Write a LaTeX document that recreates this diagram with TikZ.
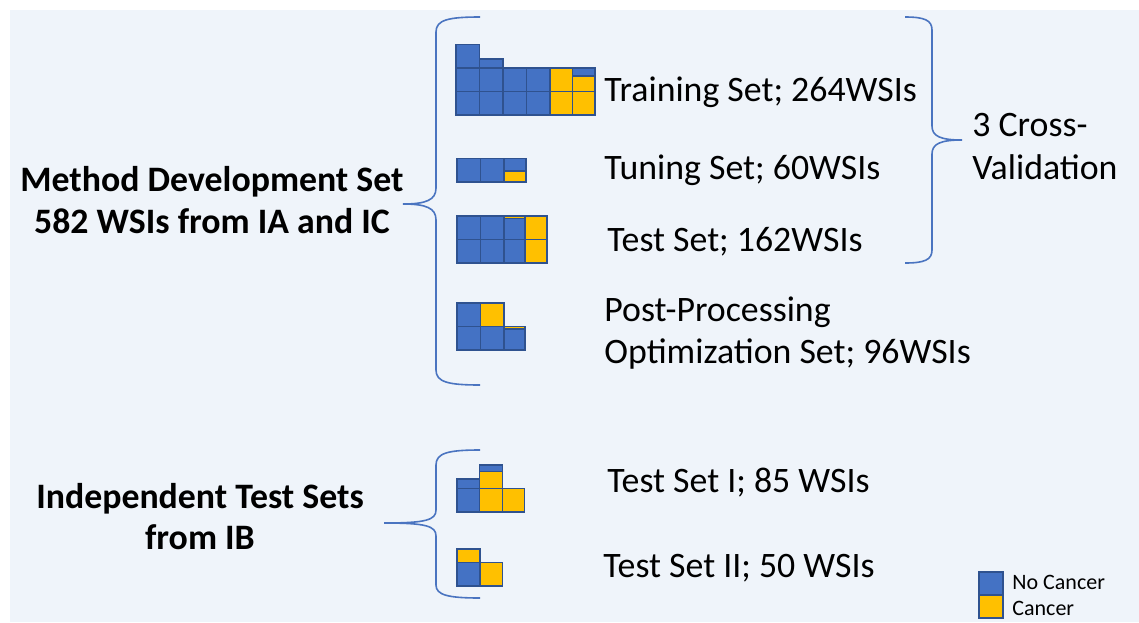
\documentclass[tikz,border=0pt]{standalone}
\usepackage{fontspec}
\setmainfont{Carlito}
\usepackage{tikz}
\usetikzlibrary{positioning}
\definecolor{colorBack}{HTML}{EFF4FA}
\definecolor{colorNoCancer}{HTML}{4472C4}
\definecolor{colorCancer}{HTML}{FFC000}
\definecolor{colorEdge}{HTML}{2F528F}
\definecolor{colorBrace}{HTML}{4A74C0}

\begin{document}
\begin{tikzpicture}[x=0.5pt, y=-0.5pt,
  nocancer/.style={fill=colorNoCancer, draw=colorEdge, line width=0.95pt},
  cancer/.style={fill=colorCancer, draw=colorEdge, line width=0.95pt},
  bracepath/.style={draw=colorBrace, line width=0.8pt},
  setlabel/.style={anchor=base west, inner sep=0pt, font=\fontsize{17.9}{21.5}\selectfont},
  grouplabel/.style={anchor=base, inner sep=0pt, font=\fontsize{17.9}{21.5}\selectfont\bfseries},
  keylabel/.style={anchor=base west, inner sep=0pt, font=\fontsize{11}{13}\selectfont}]
\useasboundingbox (0,0) rectangle (1139,622);
\fill[colorBack] (10,10) rectangle (1139,622);
% group labels
\node[grouplabel] (mds) at (212,191.5) {Method Development Set};
\node[grouplabel] (mdsfrom) at (212,233.5) {582 WSIs from IA and IC};
\node[grouplabel] (its) at (200,508.5) {Independent Test Sets};
\node[grouplabel] (itsfrom) at (200,549.5) {from IB};
% set labels
\node[setlabel] (train) at (604,101.5) {Training Set; 264WSIs};
\node[setlabel] (tune) at (604,179.5) {Tuning Set; 60WSIs};
\node[setlabel] (test) at (607,251.5) {Test Set; 162WSIs};
\node[setlabel] (post) at (604,321.5) {Post-Processing};
\node[setlabel] (optim) at (604,363.5) {Optimization Set; 96WSIs};
\node[setlabel] (cross) at (972,136.5) {3 Cross-};
\node[setlabel] (valid) at (972,179.5) {Validation};
\node[setlabel] (testa) at (607,492.5) {Test Set I; 85 WSIs};
\node[setlabel] (testb) at (603,577.5) {Test Set II; 50 WSIs};
% braces
\path[bracepath] (480,17) .. controls (448,17) and (436,20) .. (436,32) -- (436,188)
  .. controls (436,200) and (426,204) .. (403,204) .. controls (426,204) and (436,208) .. (436,220)
  -- (436,370) .. controls (436,382) and (448,385) .. (480,385);
\path[bracepath] (905,17) .. controls (924,17) and (932,20) .. (932,30) -- (932,126)
  .. controls (932,136) and (940,140) .. (962,140) .. controls (940,140) and (932,144) .. (932,154)
  -- (932,250) .. controls (932,260) and (924,263) .. (905,263);
\path[bracepath] (480,450) .. controls (448,450) and (436,453) .. (436,465) -- (436,510)
  .. controls (436,520) and (426,523) .. (384,523) .. controls (426,523) and (436,526) .. (436,536)
  -- (436,585) .. controls (436,595) and (448,598) .. (480,598);
% training set
\foreach \i in {0,...,3} \foreach \j in {0,1} \path[nocancer] (456+\i*23.5,68+\j*23.5) rectangle +(23.5,23.5);
\path[nocancer] (456,44.5) rectangle +(23.5,23.5);
\path[nocancer] (479.5,59) rectangle +(23.5,9);
\path[cancer] (550,68) rectangle +(22.5,23.5);
\path[cancer] (550,91.5) rectangle +(22.5,23.5);
\path[nocancer] (572.5,68) rectangle +(22.5,8);
\path[cancer] (572.5,76) rectangle +(22.5,15.5);
\path[cancer] (572.5,91.5) rectangle +(22.5,23.5);
% tuning set
\foreach \i in {0,1} \path[nocancer] (457+\i*23.5,158.5) rectangle +(23.5,23.5);
\path[nocancer] (504,158.5) rectangle +(22,12.5);
\path[cancer] (504,171) rectangle +(22,11);
% test set
\foreach \i in {0,1} \foreach \j in {0,1} \path[nocancer] (457+\i*23.5,216+\j*23.5) rectangle +(23.5,23.5);
\path[cancer] (504,216) rectangle +(21,2.5);
\path[nocancer] (504,218.5) rectangle +(21,21);
\path[nocancer] (504,239.5) rectangle +(21,23.5);
\path[cancer] (525,216) rectangle +(22,23.5);
\path[cancer] (525,239.5) rectangle +(22,23.5);
% post-processing optimization set
\path[nocancer] (457,303) rectangle +(23.5,23.5);
\path[nocancer] (457,326.5) rectangle +(23.5,23.5);
\path[cancer] (480.5,303) rectangle +(23.5,23.5);
\path[nocancer] (480.5,326.5) rectangle +(23.5,23.5);
\path[cancer] (504,326.5) rectangle +(21,2.5);
\path[nocancer] (504,329) rectangle +(21,21);
% test set I
\path[nocancer] (457,479) rectangle +(22.5,9.5);
\path[nocancer] (457,488.5) rectangle +(22.5,23.5);
\path[nocancer] (479.5,465) rectangle +(23,6.5);
\path[cancer] (479.5,471.5) rectangle +(23,17);
\path[cancer] (479.5,488.5) rectangle +(23,23.5);
\path[cancer] (502.5,488.5) rectangle +(22,23.5);
% test set II
\path[cancer] (457,549) rectangle +(23,13.5);
\path[nocancer] (457,562.5) rectangle +(23,23.5);
\path[cancer] (480,562.5) rectangle +(22.5,23.5);
% legend
\path[nocancer] (979,572) rectangle (1003,595);
\path[cancer] (979,595) rectangle (1003,618);
\node[keylabel] (keyno) at (1012,589) {No Cancer};
\node[keylabel] (keyyes) at (1012,615) {Cancer};
\end{tikzpicture}
\end{document}
